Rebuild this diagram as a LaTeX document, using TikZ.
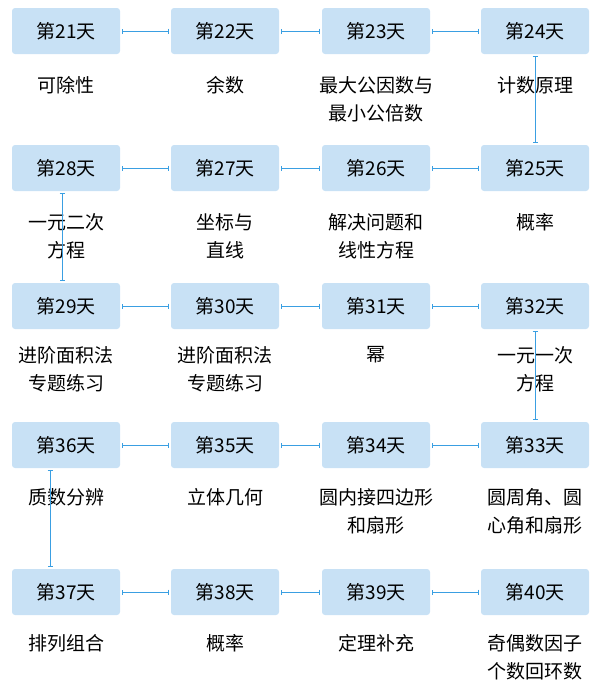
\documentclass[tikz,border=0pt]{standalone}
\usepackage{fontspec}
\setmainfont{Noto Sans CJK SC}
\usetikzlibrary{arrows.meta}
\definecolor{daybg}{HTML}{C8E1F5}
\definecolor{linkblue}{HTML}{3A9FE2}
\tikzset{
  daybox/.style={fill=daybg, rounded corners=3pt, minimum width=108pt, minimum height=46pt, font=\fontsize{19}{22}\selectfont},
  topic/.style={anchor=north, align=center, font=\fontsize{19}{28}\selectfont, inner sep=0pt},
  link/.style={linkblue, line width=1pt, {Bar[width=5pt]}-{Bar[width=5pt]}, shorten <=2pt, shorten >=2pt}
}
\begin{document}
\begin{tikzpicture}[x=1pt,y=-1pt]
\useasboundingbox (0,0) rectangle (610,688);

% rows of days
\foreach \n/\x/\y in {21/66/31, 22/225/31, 23/376/31, 24/535/31,
                      28/66/168, 27/225/168, 26/376/168, 25/535/168,
                      29/66/306, 30/225/306, 31/376/306, 32/535/306,
                      36/66/445, 35/225/445, 34/376/445, 33/535/445,
                      37/66/592, 38/225/592, 39/376/592, 40/535/592}
{
  \node[daybox] (d\n) at (\x,\y) {第\n 天};
}

% topics
\node[topic] (t21) at (66,76) {可除性};
\node[topic] (t22) at (225,76) {余数};
\node[topic] (t23) at (376,76) {最大公因数与\\最小公倍数};
\node[topic] (t24) at (535,76) {计数原理};
\node[topic] (t28) at (66,213) {一元二次\\方程};
\node[topic] (t27) at (225,213) {坐标与\\直线};
\node[topic] (t26) at (376,213) {解决问题和\\线性方程};
\node[topic] (t25) at (535,213) {概率};
\node[topic] (t29) at (66,346) {进阶面积法\\专题练习};
\node[topic] (t30) at (225,346) {进阶面积法\\专题练习};
\node[topic] (t31) at (376,346) {幂};
\node[topic] (t32) at (535,346) {一元一次\\方程};
\node[topic] (t36) at (66,488) {质数分辨};
\node[topic] (t35) at (225,488) {立体几何};
\node[topic] (t34) at (376,488) {圆内接四边形\\和扇形};
\node[topic] (t33) at (535,488) {圆周角、圆\\心角和扇形};
\node[topic] (t37) at (66,634) {排列组合};
\node[topic] (t38) at (225,634) {概率};
\node[topic] (t39) at (376,634) {定理补充};
\node[topic] (t40) at (535,634) {奇偶数因子\\个数回环数};

% links
\draw[link] (d21) -- (d22);
\draw[link] (d22) -- (d23);
\draw[link] (d23) -- (d24);
\draw[link] (d24.south) -- (d25.north);
\draw[link] (d25) -- (d26);
\draw[link] (d26) -- (d27);
\draw[link] (d27) -- (d28);
\draw[link] ([xshift=-4pt]d28.south) -- ([xshift=-4pt]d29.north);
\draw[link] (d29) -- (d30);
\draw[link] (d30) -- (d31);
\draw[link] (d31) -- (d32);
\draw[link] (d32.south) -- (d33.north);
\draw[link] (d33) -- (d34);
\draw[link] (d34) -- (d35);
\draw[link] (d35) -- (d36);
\draw[link] ([xshift=-16pt]d36.south) -- ([xshift=-16pt]d37.north);
\draw[link] (d37) -- (d38);
\draw[link] (d38) -- (d39);
\draw[link] (d39) -- (d40);
\end{tikzpicture}
\end{document}
